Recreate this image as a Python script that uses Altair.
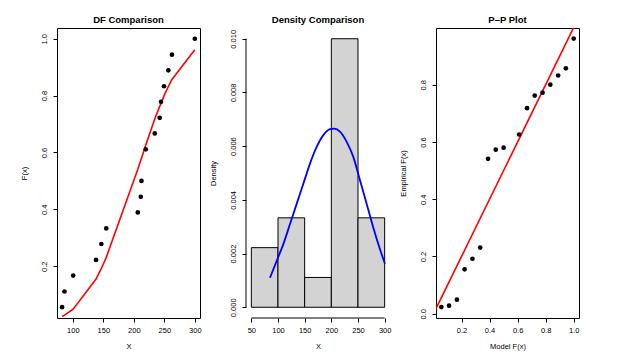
import altair as alt
import pandas as pd

FONT = "Liberation Sans"

# ---- data ----
x_vals = [82.3, 86.3, 100.5, 138.0, 146.7, 154.8, 206.5, 211.4, 212.5, 219.6,
          234.3, 242.4, 244.6, 249.5, 256.6, 262.5, 300.0]
ecdf_vals = [0.056, 0.111, 0.167, 0.222, 0.278, 0.333, 0.389, 0.444, 0.500, 0.611,
             0.667, 0.722, 0.778, 0.833, 0.889, 0.944, 1.000]
model_cdf = [0.023, 0.028, 0.049, 0.155, 0.192, 0.231, 0.541, 0.573, 0.580, 0.626,
             0.718, 0.762, 0.772, 0.800, 0.832, 0.857, 0.961]

bin_start = [50, 100, 150, 200, 250]
bin_end = [100, 150, 200, 250, 300]
bin_density = [0.00222, 0.00333, 0.00111, 0.01000, 0.00333]

curve_x = [85.0, 97.6, 110.0, 122.5, 135.0, 147.5, 160.0, 172.5, 185.0, 197.5,
           205.6, 216.2, 228.8, 241.2, 253.7, 266.3, 278.6, 291.2, 300.6]
curve_d = [0.00110, 0.00173, 0.00235, 0.00310, 0.00385, 0.00460, 0.00535, 0.00597,
           0.00641, 0.00663, 0.00665, 0.00654, 0.00616, 0.00560, 0.00473, 0.00385,
           0.00297, 0.00216, 0.00162]

diag_ends = [0.0, 1.1]

df_pts = pd.DataFrame({"x": x_vals, "F": ecdf_vals, "M": model_cdf})
hist_df = pd.DataFrame({"a": bin_start, "b": bin_end, "d": bin_density})
curve_df = pd.DataFrame({"a": curve_x, "d": curve_d})
pp_df = pd.DataFrame({"m": ecdf_vals, "e": model_cdf})
diag_df = pd.DataFrame({"m": diag_ends, "e": diag_ends})
xline_df = pd.DataFrame({"a": [bin_start[0]], "b": [bin_end[-1]]})
yline_df = pd.DataFrame({"d": [0.0], "d2": [0.010]})

W, H = 143, 290


def xaxis(title, values, fmt):
    return alt.Axis(title=title, values=values, format=fmt, domain=False, grid=False,
                    tickSize=4, labelPadding=4, titlePadding=9, labelFlush=False,
                    labelOverlap=False)


def yaxis(title, values, fmt):
    return alt.Axis(title=title, values=values, format=fmt, domain=False, grid=False,
                    tickSize=4, labelAngle=270, labelAlign="center",
                    labelBaseline="bottom", labelPadding=5, titlePadding=12,
                    labelFlush=False, labelOverlap=False)


# ---- panel 1: DF comparison ----
xs1 = alt.Scale(domain=[74, 308.5], nice=False, zero=False)
ys1 = alt.Scale(domain=[0.0178, 1.0378], nice=False, zero=False)
ax1 = xaxis("X", [100, 150, 200, 250, 300], "d")
ay1 = yaxis("F(x)", [0.2, 0.4, 0.6, 0.8, 1.0], ".1f")
p1_line = alt.Chart(df_pts).mark_line(color="red", strokeWidth=1.6).encode(
    x=alt.X("x:Q", scale=xs1, axis=ax1),
    y=alt.Y("M:Q", scale=ys1, axis=ay1),
)
p1_pts = alt.Chart(df_pts).mark_circle(color="black", size=22, opacity=1).encode(
    x=alt.X("x:Q", scale=xs1, axis=ax1), y=alt.Y("F:Q", scale=ys1, axis=ay1)
)
p1 = alt.layer(p1_line, p1_pts).properties(
    width=W, height=H, title="DF Comparison",
    view=alt.ViewBackground(stroke="black", strokeWidth=1),
)

# ---- panel 2: density comparison ----
xs2 = alt.Scale(domain=[40, 310], nice=False, zero=False)
ys2 = alt.Scale(domain=[-0.0004, 0.0104], nice=False, zero=False)
ax2 = xaxis("X", [50, 100, 150, 200, 250, 300], "d")
ay2 = yaxis("Density", [0, 0.002, 0.004, 0.006, 0.008, 0.010], ".3f")
p2_bars = alt.Chart(hist_df).mark_rect(fill="#d3d3d3", stroke="black", strokeWidth=1).encode(
    x=alt.X("a:Q", scale=xs2, axis=ax2),
    x2="b:Q",
    y=alt.Y("d:Q", scale=ys2, axis=ay2),
    y2=alt.datum(0),
)
p2_curve = alt.Chart(curve_df).mark_line(color="blue", strokeWidth=1.8,
                                         interpolate="monotone").encode(
    x=alt.X("a:Q", scale=xs2, axis=ax2), y=alt.Y("d:Q", scale=ys2, axis=ay2)
)
xaxis_line = alt.Chart(xline_df).mark_rule(color="black", strokeWidth=1).encode(
    x=alt.X("a:Q", scale=xs2, axis=ax2), x2="b:Q", y=alt.value(H)
)
yaxis_line = alt.Chart(yline_df).mark_rule(color="black", strokeWidth=1).encode(
    y=alt.Y("d:Q", scale=ys2, axis=ay2), y2="d2:Q", x=alt.value(0)
)
p2 = alt.layer(p2_bars, p2_curve, xaxis_line, yaxis_line).properties(
    width=W + 1, height=H, title="Density Comparison",
    view=alt.ViewBackground(stroke="transparent"),
)

# ---- panel 3: P-P plot ----
xs3 = alt.Scale(domain=[0.0178, 1.0378], nice=False, zero=False)
ys3 = alt.Scale(domain=[-0.015, 0.998], nice=False, zero=False)
ax3 = xaxis("Model F(x)", [0.2, 0.4, 0.6, 0.8, 1.0], ".1f")
ay3 = yaxis("Empirical F(x)", [0.0, 0.2, 0.4, 0.6, 0.8], ".1f")
p3_line = alt.Chart(diag_df).mark_line(color="red", strokeWidth=1.6, clip=True).encode(
    x=alt.X("m:Q", scale=xs3, axis=ax3),
    y=alt.Y("e:Q", scale=ys3, axis=ay3),
)
p3_pts = alt.Chart(pp_df).mark_circle(color="black", size=22, opacity=1).encode(
    x=alt.X("m:Q", scale=xs3, axis=ax3), y=alt.Y("e:Q", scale=ys3, axis=ay3)
)
p3 = alt.layer(p3_line, p3_pts).properties(
    width=W, height=H, title="P–P Plot",
    view=alt.ViewBackground(stroke="black", strokeWidth=1),
)

chart = alt.hconcat(p1, p2, p3, spacing=46, bounds="flush").resolve_scale(
    x="independent", y="independent"
).properties(
    padding={"left": 11, "top": 6, "right": 0, "bottom": 0},
).configure_axis(
    labelFont=FONT, labelFontSize=7.5, labelColor="black",
    titleFont=FONT, titleFontSize=7.5, titleFontWeight="normal", titleColor="black",
    tickColor="black", tickWidth=1,
).configure_title(
    font=FONT, fontSize=9.5, fontWeight="bold", color="black", offset=4, anchor="middle",
).configure_view(stroke="black")

chart.save("out.html", embed_options={"renderer": "svg", "actions": False})
